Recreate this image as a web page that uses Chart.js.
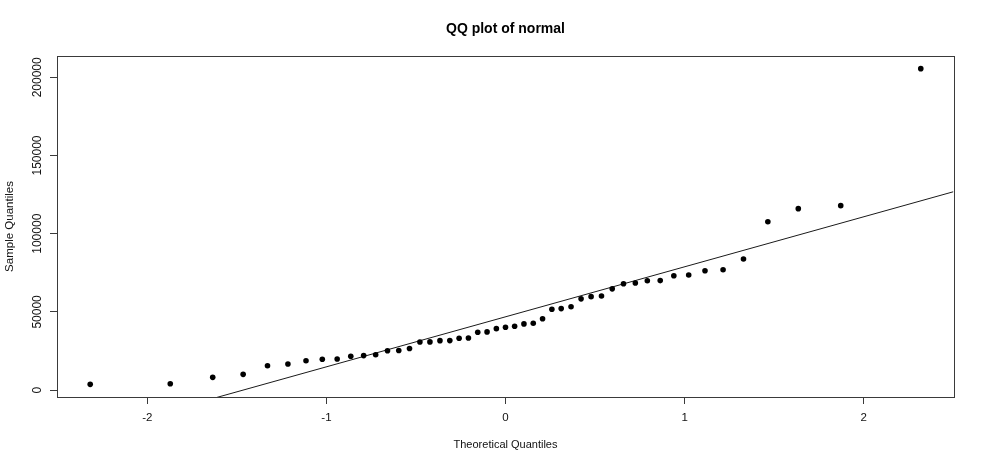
<!DOCTYPE html>
<html>
<head>
<meta charset="utf-8">
<title>QQ plot of normal</title>
<script src="https://cdn.jsdelivr.net/npm/chart.js@4/dist/chart.umd.min.js"></script>
<style>
    html, body { margin: 0; padding: 0; background: #fff; }
    #qqChart { display: block; }
</style>
</head>
<body>
<canvas id="qqChart" width="984" height="468"></canvas>
<script>
// ============================================
// DATA
// ============================================

// theoretical quantiles (x) for the 49 sorted samples
const theoretical = [
    -2.319, -1.872, -1.635, -1.465, -1.329, -1.215, -1.114, -1.023, -0.940, -0.864,
    -0.792, -0.725, -0.659, -0.596, -0.536, -0.478, -0.422, -0.366, -0.311, -0.259,
    -0.207, -0.155, -0.103, -0.051, 0.000, 0.051, 0.103, 0.155, 0.207, 0.259,
    0.311, 0.366, 0.422, 0.478, 0.536, 0.596, 0.659, 0.725, 0.792, 0.864,
    0.940, 1.023, 1.114, 1.215, 1.329, 1.465, 1.635, 1.872, 2.319
];

// sample quantiles (y)
const sample = [
    3650, 4040, 8140, 10060, 15580, 16670, 18780, 19740, 19850, 21600,
    22050, 22560, 25190, 25300, 26600, 30770, 30800, 31600, 31650, 33140,
    33330, 37000, 37200, 39290, 40190, 40830, 42310, 42750, 45640, 51730,
    52110, 53330, 58330, 59740, 60190, 64740, 67950, 68460, 69870, 70000,
    73070, 73600, 76280, 76920, 83780, 107690, 116020, 117950, 205570
];

// reference line (qqline) end points
const lineX = [-2.5, 2.5];
const lineY = [-33100, 126800];

// axis ticks and ranges
const xTicks = [-2, -1, 0, 1, 2];
const yTicks = [0, 50000, 100000, 150000, 200000];
const xRange = [-2.5045, 2.5045];
const yRange = [-4430, 213650];

const chartTitle = 'QQ plot of normal';
const xTitle = 'Theoretical Quantiles';
const yTitle = 'Sample Quantiles';

// ============================================
// HELPERS
// ============================================

const FONT = '"Liberation Sans", Arial, Helvetica, sans-serif';

/**
 * R style frame, rotated y labels and the main title
 */
const rFramePlugin = {
    id: 'rFrame',
    afterDraw(chart) {
        const { ctx, chartArea, scales } = chart;
        ctx.save();

        // box round the plot region
        ctx.strokeStyle = '#3a3a3a';
        ctx.lineWidth = 1;
        ctx.strokeRect(
            Math.round(chartArea.left) + 0.5,
            Math.round(chartArea.top) + 0.5,
            Math.round(chartArea.right - chartArea.left),
            Math.round(chartArea.bottom - chartArea.top)
        );

        // y tick labels, read bottom to top
        ctx.fillStyle = '#111';
        ctx.font = '12px ' + FONT;
        ctx.textAlign = 'center';
        ctx.textBaseline = 'alphabetic';
        yTicks.forEach(v => {
            const py = scales.y.getPixelForValue(v);
            ctx.save();
            ctx.translate(41, py);
            ctx.rotate(-Math.PI / 2);
            ctx.fillText(String(v), 0, 0);
            ctx.restore();
        });

        // main title centred over the plot region
        ctx.font = 'bold 14px ' + FONT;
        ctx.textBaseline = 'middle';
        ctx.fillStyle = '#000';
        ctx.fillText(chartTitle, (chartArea.left + chartArea.right) / 2, 29);

        ctx.restore();
    }
};

// ============================================
// CHART
// ============================================

const points = theoretical.map((x, i) => ({ x: x, y: sample[i] }));
const refLine = lineX.map((x, i) => ({ x: x, y: lineY[i] }));

new Chart(document.getElementById('qqChart'), {
    type: 'scatter',
    data: {
        datasets: [
            {
                label: 'sample',
                data: points,
                backgroundColor: '#000',
                borderColor: '#000',
                borderWidth: 0,
                pointRadius: 2.8,
                pointHoverRadius: 2.8
            },
            {
                type: 'line',
                label: 'qqline',
                data: refLine,
                borderColor: '#1a1a1a',
                borderWidth: 1,
                pointRadius: 0,
                fill: false
            }
        ]
    },
    options: {
        responsive: false,
        animation: false,
        events: [],
        layout: {
            padding: { left: 0, right: 30, top: 56, bottom: 0 }
        },
        plugins: {
            legend: { display: false },
            tooltip: { enabled: false },
            title: { display: false }
        },
        scales: {
            x: {
                type: 'linear',
                min: xRange[0],
                max: xRange[1],
                afterBuildTicks: scale => {
                    scale.ticks = xTicks.map(v => ({ value: v }));
                },
                afterFit: scale => {
                    scale.height = 71;
                },
                border: { display: false },
                grid: {
                    drawOnChartArea: false,
                    drawTicks: true,
                    tickLength: 7,
                    tickColor: '#3a3a3a',
                    color: '#3a3a3a'
                },
                ticks: {
                    padding: 7,
                    color: '#111',
                    font: { family: FONT, size: 11.5 },
                    maxRotation: 0,
                    callback: v => String(v)
                },
                title: {
                    display: true,
                    text: xTitle,
                    color: '#111',
                    font: { family: FONT, size: 11 },
                    padding: { top: 0, bottom: 16 }
                }
            },
            y: {
                type: 'linear',
                min: yRange[0],
                max: yRange[1],
                afterBuildTicks: scale => {
                    scale.ticks = yTicks.map(v => ({ value: v }));
                },
                afterFit: scale => {
                    scale.width = 57;
                },
                border: { display: false },
                grid: {
                    drawOnChartArea: false,
                    drawTicks: true,
                    tickLength: 7,
                    tickColor: '#3a3a3a',
                    color: '#3a3a3a'
                },
                ticks: { display: false },
                title: {
                    display: true,
                    text: yTitle,
                    color: '#111',
                    font: { family: FONT, size: 11.5 },
                    padding: { top: 2.5, bottom: 0 }
                }
            }
        }
    },
    plugins: [rFramePlugin]
});
</script>
</body>
</html>
